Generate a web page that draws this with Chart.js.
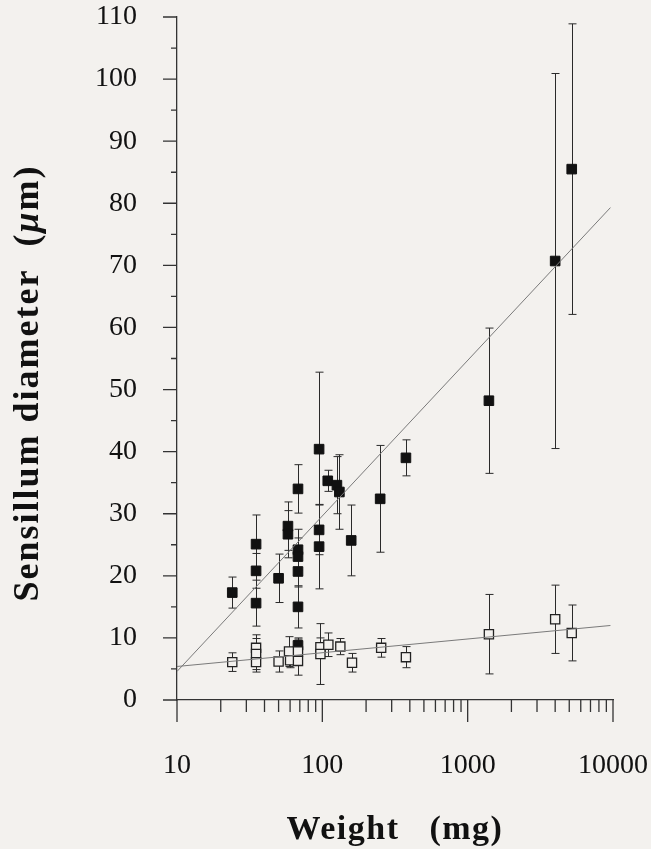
<!DOCTYPE html>
<html lang="en">
<head>
    <meta charset="UTF-8">
    <title>Sensillum diameter vs weight</title>
    <script src="https://cdn.jsdelivr.net/npm/chart.js"></script>
    <style>
        body {
            margin: 0;
            background: #f3f1ee;
        }
        #box {
            width: 651px;
            height: 849px;
        }
    </style>
</head>
<body>

<div id="box"><canvas id="myChart"></canvas></div>

<script>
    // filled squares
    const weightFilled = [24, 35, 35, 35, 50, 58, 58, 68, 68, 68, 68, 68, 68, 95, 95, 95, 109, 126, 131, 158, 250, 376, 1400, 4000, 5200];
    const diamFilled = [17.3, 25.1, 20.8, 15.6, 19.6, 28.0, 26.7, 34.0, 24.2, 23.1, 20.7, 15.0, 8.8, 40.4, 27.4, 24.7, 35.3, 34.6, 33.5, 25.7, 32.4, 39.0, 48.2, 70.7, 85.5];
    const errFilled = [2.5, 4.7, 2.8, 3.7, 3.9, 3.9, 3.8, 3.9, 3.3, 3.0, 2.5, 3.4, 1.2, 12.4, 4.0, 6.8, 1.7, 4.6, 6.0, 5.7, 8.6, 2.9, 11.7, 30.2, 23.4];

    // open squares
    const weightOpen = [24, 35, 35, 35, 50, 59, 60, 68, 68, 97, 97, 110, 133, 160, 254, 376, 1400, 4000, 5200];
    const diamOpen = [6.1, 8.4, 7.4, 6.1, 6.2, 7.8, 6.4, 7.8, 6.3, 8.5, 7.4, 8.9, 8.6, 6.0, 8.4, 6.9, 10.6, 13.0, 10.8];
    const errOpen = [1.5, 2.1, 2.5, 1.6, 1.7, 2.4, 1.2, 2.0, 2.3, 1.5, 4.9, 1.9, 1.3, 1.5, 1.5, 1.7, 6.4, 5.5, 4.5];

    // regression lines
    const fitX = [10, 9600];
    const fitFilled = [4.6, 79.3];
    const fitOpen = [5.4, 12.0];

    const xMajor = [10, 100, 1000, 10000];
    const bg = '#f3f1ee';

    function pts(xs, ys) {
        return xs.map((x, i) => ({x: x, y: ys[i]}));
    }

    // keep the plot area where the reference has it
    function noPad(s) {
        s.paddingTop = 0;
        s.paddingBottom = 0;
        s.paddingLeft = 0;
        s.paddingRight = 0;
    }

    // error bars + tick marks + axis titles
    const extras = {
        id: 'extras',
        beforeDatasetsDraw(chart) {
            const ctx = chart.ctx;
            const xs = chart.scales.x, ys = chart.scales.y;
            ctx.save();
            ctx.strokeStyle = '#2a2a2a';
            ctx.lineWidth = 1;
            const sets = [[weightFilled, diamFilled, errFilled], [weightOpen, diamOpen, errOpen]];
            sets.forEach(([wx, dy, er]) => {
                wx.forEach((w, i) => {
                    const px = Math.round(xs.getPixelForValue(w)) + 0.5;
                    const top = ys.getPixelForValue(dy[i] + er[i]);
                    const bot = ys.getPixelForValue(dy[i] - er[i]);
                    ctx.beginPath();
                    ctx.moveTo(px, top); ctx.lineTo(px, bot);
                    ctx.moveTo(px - 4, top); ctx.lineTo(px + 4, top);
                    ctx.moveTo(px - 4, bot); ctx.lineTo(px + 4, bot);
                    ctx.stroke();
                });
            });
            ctx.restore();
        },
        afterDraw(chart) {
            const ctx = chart.ctx;
            const xs = chart.scales.x, ys = chart.scales.y;
            const a = chart.chartArea;
            ctx.save();
            ctx.strokeStyle = '#333';
            ctx.lineWidth = 1.3;
            ctx.beginPath();
            for (let v = 0; v <= 110; v += 5) {
                const py = ys.getPixelForValue(v);
                ctx.moveTo(a.left, py);
                ctx.lineTo(a.left - (v % 10 === 0 ? 14 : 6), py);
            }
            for (let d = 10; d <= 10000; d *= 10) {
                for (let m = 1; m <= 9; m++) {
                    const v = d * m;
                    if (v > 10000) break;
                    const px = xs.getPixelForValue(v);
                    ctx.moveTo(px, a.bottom);
                    ctx.lineTo(px, a.bottom + (m === 1 ? 22 : 12));
                }
            }
            ctx.stroke();

            ctx.fillStyle = '#111';
            ctx.textBaseline = 'alphabetic';
            // x title
            ctx.font = 'bold 34px "Liberation Serif"';
            ctx.letterSpacing = '1.5px';
            ctx.textAlign = 'center';
            ctx.fillText('Weight   (mg)', (a.left + a.right) / 2, 839);

            // y title, rotated, italic mu
            ctx.translate(38, 383);
            ctx.rotate(-Math.PI / 2);
            ctx.textAlign = 'left';
            ctx.letterSpacing = '2px';
            const parts = [
                ['Sensillum diameter  (', 'bold 36px "Liberation Serif"'],
                ['\u03bc', 'italic bold 36px "Liberation Serif"'],
                ['m)', 'bold 36px "Liberation Serif"']
            ];
            let total = 0;
            parts.forEach(p => { ctx.font = p[1]; total += ctx.measureText(p[0]).width; });
            let x0 = -total / 2;
            parts.forEach(p => {
                ctx.font = p[1];
                ctx.fillText(p[0], x0, 0);
                x0 += ctx.measureText(p[0]).width;
            });
            ctx.restore();
        }
    };

    const ctx = document.getElementById('myChart').getContext('2d');
    const chart = new Chart(ctx, {
        type: 'scatter',
        data: {
            datasets: [
                {
                    type: 'line',
                    data: pts(fitX, fitFilled),
                    borderColor: '#7a7a7a',
                    borderWidth: 1,
                    pointRadius: 0,
                    fill: false
                },
                {
                    type: 'line',
                    data: pts(fitX, fitOpen),
                    borderColor: '#7a7a7a',
                    borderWidth: 1,
                    pointRadius: 0,
                    fill: false
                },
                {
                    data: pts(weightOpen, diamOpen),
                    pointStyle: 'rect',
                    pointRadius: 6.5,
                    backgroundColor: bg,
                    borderColor: '#222',
                    borderWidth: 1.3
                },
                {
                    data: pts(weightFilled, diamFilled),
                    pointStyle: 'rect',
                    pointRadius: 6.8,
                    backgroundColor: '#111',
                    borderColor: '#111',
                    borderWidth: 1
                }
            ]
        },
        options: {
            responsive: true,
            maintainAspectRatio: false,
            animation: false,
            layout: {
                padding: {top: 17, right: 38, left: 0, bottom: 0}
            },
            plugins: {
                legend: {display: false},
                tooltip: {enabled: false}
            },
            scales: {
                x: {
                    type: 'logarithmic',
                    min: 10,
                    max: 10000,
                    grid: {display: false, drawTicks: false},
                    border: {display: true, color: '#333', width: 1.3},
                    afterFit: s => { s.height = 149; noPad(s); },
                    ticks: {
                        autoSkip: false,
                        maxRotation: 0,
                        padding: 49,
                        color: '#111',
                        font: {family: '"Liberation Serif"', size: 28},
                        callback: v => xMajor.includes(v) ? String(v) : ''
                    }
                },
                y: {
                    min: 0,
                    max: 110,
                    grid: {display: false, drawTicks: false},
                    border: {display: true, color: '#333', width: 1.3},
                    afterFit: s => { s.width = 177; noPad(s); },
                    ticks: {
                        stepSize: 10,
                        padding: 40,
                        color: '#111',
                        font: {family: '"Liberation Serif"', size: 28}
                    }
                }
            }
        },
        plugins: [extras]
    });
</script>

</body>
</html>
